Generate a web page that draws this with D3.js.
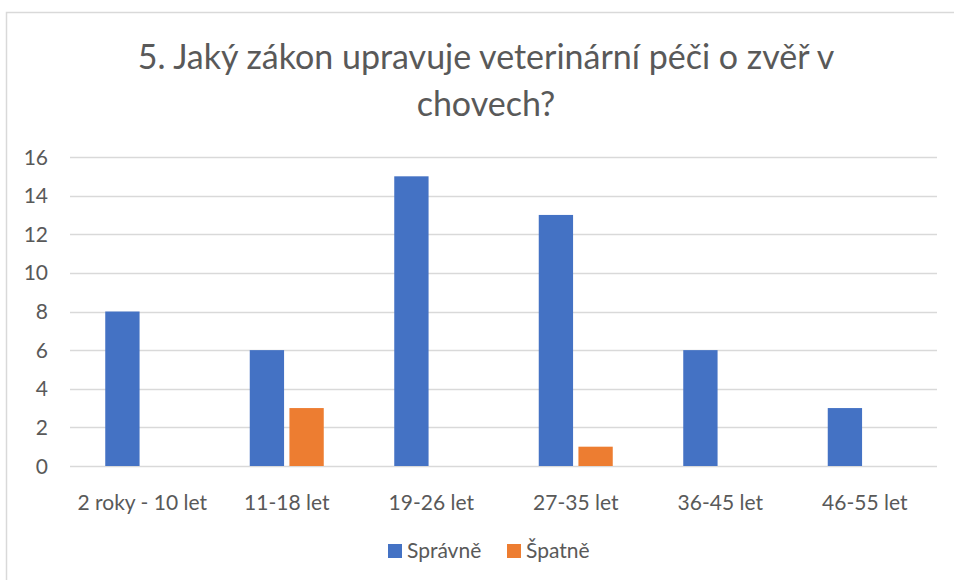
<!DOCTYPE html>
<html>
<head>
<meta charset="utf-8">
<script src="https://cdn.jsdelivr.net/npm/d3@7"></script>
<style>
  body { margin: 0; background: #fff; }
  svg { font-family: Lato, "Open Sans", sans-serif; }
</style>
</head>
<body>
<svg id="chart"></svg>
<script>
const w = 954;
const h = 580;

const categories = ["2 roky - 10 let", "11-18 let", "19-26 let", "27-35 let", "36-45 let", "46-55 let"];
const seriesNames = ["Správně", "Špatně"];
const spravne = [8, 6, 15, 13, 6, 3];
const spatne = [0, 3, 0, 1, 0, 0];
const yTicks = [0, 2, 4, 6, 8, 10, 12, 14, 16];
const colors = ["#4472C4", "#ED7D31"];

const plotLeft = 70, plotRight = 937, plotTop = 157, plotBottom = 466;

const svg = d3.select("#chart")
    .attr("width", w)
    .attr("height", h);

// chart frame
svg.append("rect")
    .attr("x", 6.5).attr("y", 12.5)
    .attr("width", 960).attr("height", 600)
    .attr("fill", "none")
    .attr("stroke", "#d9d9d9")
    .attr("stroke-width", 1.5);

// title
const title = svg.append("text")
    .attr("text-anchor", "middle")
    .attr("fill", "#595959")
    .attr("font-size", 34);
title.append("tspan").attr("x", 486).attr("y", 69).text("5. Jaký zákon upravuje veterinární péči o zvěř v");
title.append("tspan").attr("x", 486).attr("y", 116).text("chovech?");

const xScale = d3.scaleBand()
    .domain(categories)
    .range([plotLeft, plotRight]);

const yScale = d3.scaleLinear()
    .domain([0, 16])
    .range([plotBottom, plotTop]);

const inner = d3.scaleBand()
    .domain(seriesNames)
    .range([-37, 37])
    .paddingInner(0.135);

// gridlines
svg.append("g")
    .selectAll("line")
    .data(yTicks)
    .enter()
    .append("line")
    .attr("x1", plotLeft).attr("x2", plotRight)
    .attr("y1", (d) => Math.round(yScale(d)) + 0.5)
    .attr("y2", (d) => Math.round(yScale(d)) + 0.5)
    .attr("stroke", "#d9d9d9")
    .attr("stroke-width", 1.5);

// y axis labels
svg.append("g")
    .selectAll("text")
    .data(yTicks)
    .enter()
    .append("text")
    .attr("x", 48)
    .attr("y", (d) => yScale(d))
    .attr("dy", "0.36em")
    .attr("text-anchor", "end")
    .attr("fill", "#595959")
    .attr("font-size", 21)
    .text((d) => d);

// bars
const series = [spravne, spatne];
series.forEach((vals, si) => {
  svg.append("g")
      .selectAll("rect")
      .data(vals.map((v, i) => ({cat: categories[i], v: v})).filter((d) => d.v > 0))
      .enter()
      .append("rect")
      .attr("x", (d) => xScale(d.cat) + xScale.bandwidth() / 2 + inner(seriesNames[si]))
      .attr("y", (d) => yScale(d.v))
      .attr("width", inner.bandwidth())
      .attr("height", (d) => plotBottom - yScale(d.v))
      .attr("fill", colors[si]);
});

// x axis labels
svg.append("g")
    .selectAll("text")
    .data(categories)
    .enter()
    .append("text")
    .attr("x", (d) => xScale(d) + xScale.bandwidth() / 2)
    .attr("y", 510)
    .attr("text-anchor", "middle")
    .attr("fill", "#595959")
    .attr("font-size", 21)
    .text((d) => d);

// legend
const legendX = [388, 507];
seriesNames.forEach((name, i) => {
  svg.append("rect")
      .attr("x", legendX[i]).attr("y", 544)
      .attr("width", 14).attr("height", 14)
      .attr("fill", colors[i]);
  svg.append("text")
      .attr("x", legendX[i] + 19).attr("y", 558)
      .attr("fill", "#595959")
      .attr("font-size", 21)
      .text(name);
});
</script>
</body>
</html>
